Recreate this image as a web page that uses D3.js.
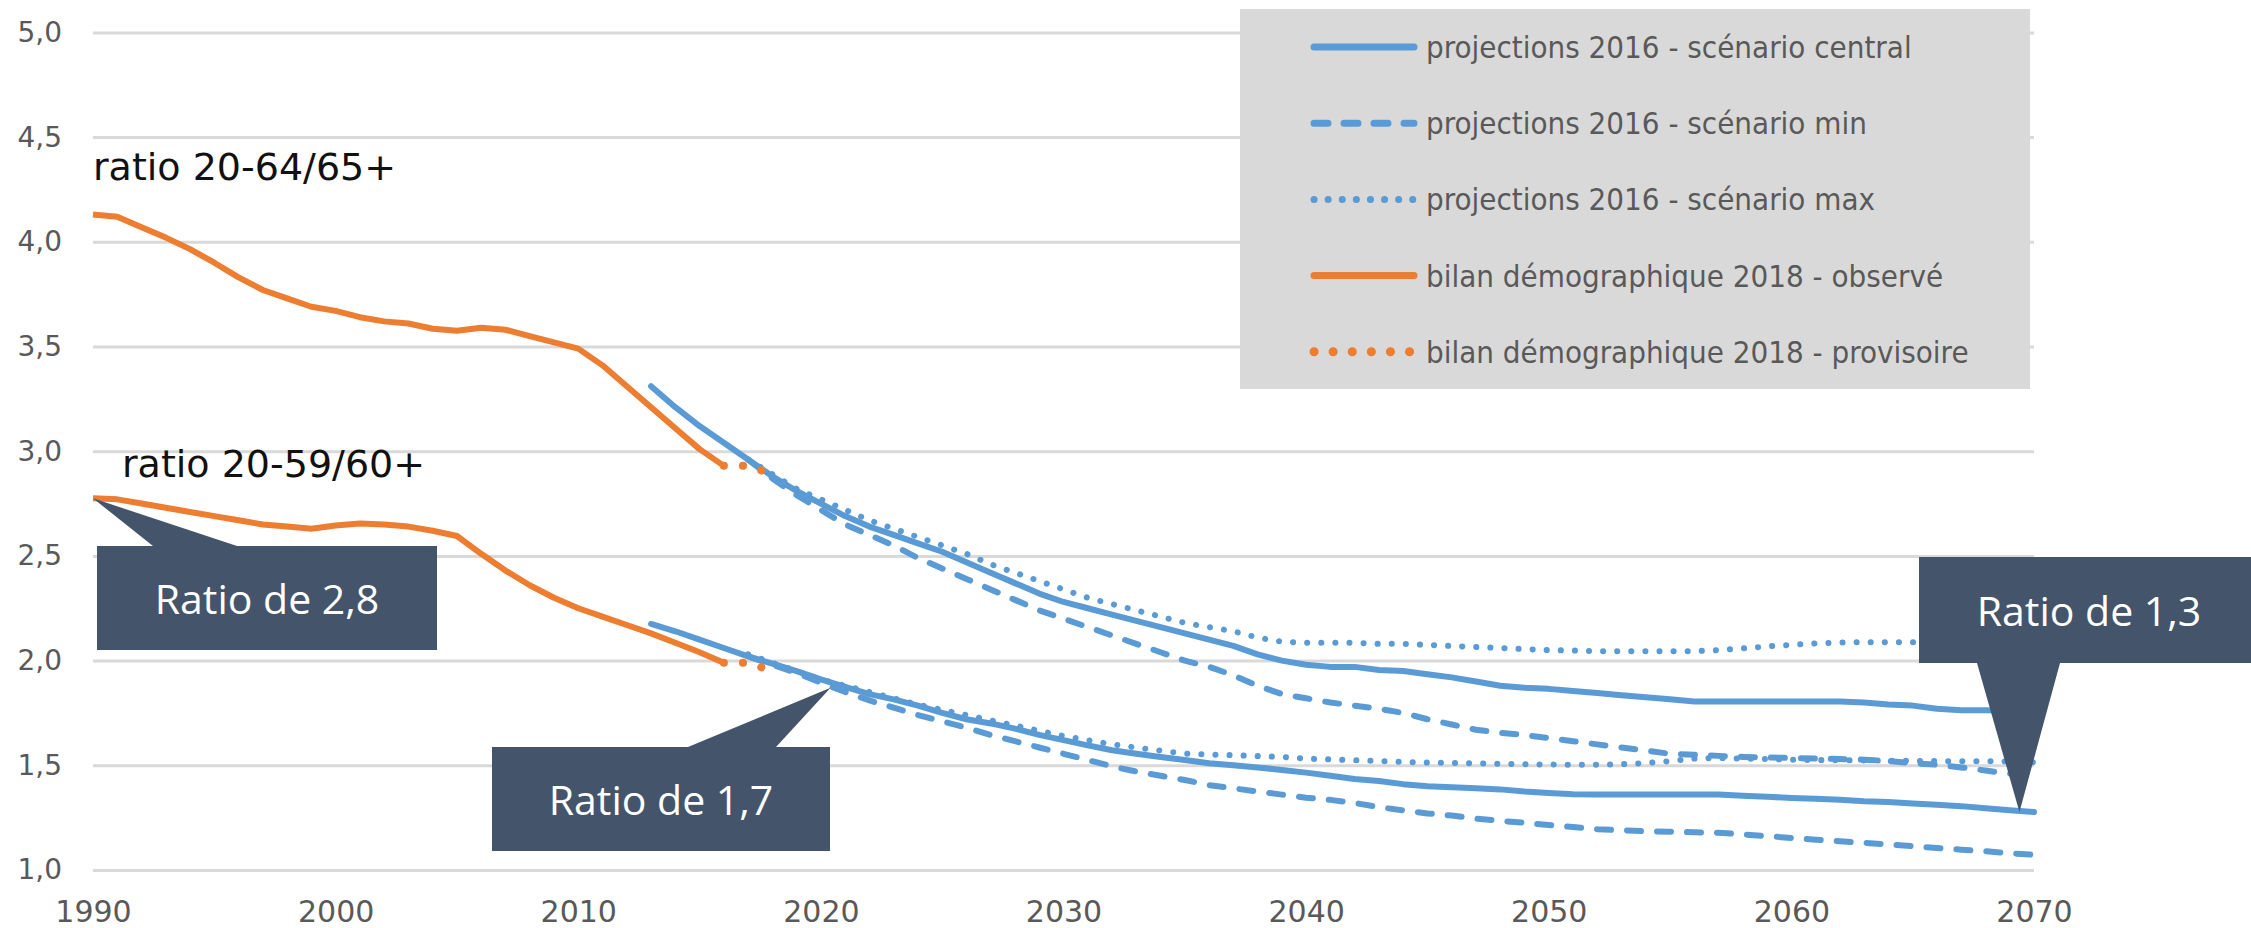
<!DOCTYPE html>
<html><head><meta charset="utf-8">
<script src="https://cdn.jsdelivr.net/npm/d3@7"></script>
<style>
html,body{margin:0;padding:0;background:#fff;}
svg{display:block;}
</style></head><body>
<svg id="chart" width="2251" height="928"></svg>
<script>
// Ratio of the working-age population to the older population, France 1990–2070

// ---- axis ticks ----
const yTicks = [1.0, 1.5, 2.0, 2.5, 3.0, 3.5, 4.0, 4.5, 5.0];
const xTicks = [1990, 2000, 2010, 2020, 2030, 2040, 2050, 2060, 2070];

// ---- bilan démographique 2018 : observed (from 1990) and provisional (2016-2018) ----
const observedStart = 1990;
const observed2064 = [4.13, 4.12, 4.07, 4.02, 3.965, 3.90, 3.83, 3.77, 3.73, 3.69,
  3.67, 3.64, 3.62, 3.61, 3.585, 3.575, 3.59, 3.58, 3.55, 3.52,
  3.49, 3.41, 3.31, 3.21, 3.11, 3.01, 2.93];
const observed2059 = [2.775, 2.77, 2.75, 2.73, 2.71, 2.69, 2.67, 2.65, 2.64, 2.63,
  2.645, 2.655, 2.65, 2.64, 2.62, 2.595, 2.51, 2.43, 2.36, 2.30,
  2.25, 2.21, 2.17, 2.13, 2.085, 2.04, 1.99];
const provisionalStart = 2016;
const provisional2064 = [2.93, 2.93, 2.89];
const provisional2059 = [1.99, 1.99, 1.95];

// ---- projections 2016 : central scenario (from 2013) ----
const centralStart = 2013;
const central2064 = [3.31, 3.21, 3.12, 3.04, 2.96, 2.88, 2.81, 2.75, 2.69, 2.64,
  2.60, 2.56, 2.52, 2.47, 2.42, 2.37, 2.32, 2.28, 2.25, 2.22,
  2.19, 2.16, 2.13, 2.10, 2.07, 2.03, 2.00, 1.98, 1.97, 1.97,
  1.955, 1.95, 1.935, 1.92, 1.90, 1.88, 1.87, 1.865, 1.855, 1.845,
  1.835, 1.825, 1.815, 1.805, 1.805, 1.805, 1.805, 1.805, 1.805, 1.805,
  1.80, 1.79, 1.785, 1.77, 1.763, 1.763, 1.76, 1.76];
const central2059 = [2.175, 2.14, 2.10, 2.06, 2.02, 1.985, 1.95, 1.91, 1.875, 1.84,
  1.815, 1.785, 1.75, 1.72, 1.70, 1.675, 1.645, 1.62, 1.595, 1.572,
  1.555, 1.54, 1.525, 1.51, 1.50, 1.49, 1.478, 1.465, 1.45, 1.435,
  1.425, 1.41, 1.40, 1.395, 1.39, 1.385, 1.375, 1.368, 1.362, 1.36,
  1.36, 1.36, 1.36, 1.36, 1.36, 1.355, 1.35, 1.344, 1.34, 1.335,
  1.328, 1.325, 1.318, 1.312, 1.305, 1.295, 1.285, 1.277];

// ---- projections 2016 : low and high scenarios (from 2017) ----
const scenarioStart = 2017;
const min2064 = [2.96, 2.87, 2.79, 2.72, 2.65, 2.60, 2.55, 2.49, 2.44, 2.39,
  2.34, 2.29, 2.24, 2.20, 2.16, 2.12, 2.08, 2.04, 2.00, 1.97,
  1.93, 1.88, 1.84, 1.82, 1.80, 1.785, 1.77, 1.75, 1.72, 1.695,
  1.67, 1.655, 1.645, 1.63, 1.615, 1.60, 1.585, 1.57, 1.555, 1.55,
  1.545, 1.54, 1.537, 1.535, 1.532, 1.53, 1.527, 1.52, 1.51, 1.503,
  1.49, 1.475, 1.46, 1.445];
const max2064 = [2.96, 2.89, 2.82, 2.77, 2.72, 2.67, 2.63, 2.59, 2.55, 2.51,
  2.46, 2.42, 2.38, 2.34, 2.30, 2.27, 2.24, 2.21, 2.18, 2.16,
  2.14, 2.11, 2.09, 2.085, 2.085, 2.085, 2.08, 2.08, 2.075, 2.07,
  2.065, 2.06, 2.055, 2.05, 2.048, 2.045, 2.045, 2.045, 2.045, 2.045,
  2.05, 2.058, 2.068, 2.075, 2.082, 2.086, 2.088, 2.088, 2.088, 2.088,
  2.09, 2.09, 2.09, 2.09];
const min2059 = [2.02, 1.98, 1.94, 1.895, 1.85, 1.81, 1.775, 1.74, 1.71, 1.68,
  1.645, 1.615, 1.585, 1.555, 1.525, 1.495, 1.47, 1.45, 1.43, 1.405,
  1.39, 1.375, 1.36, 1.345, 1.335, 1.32, 1.30, 1.285, 1.27, 1.26,
  1.245, 1.235, 1.225, 1.215, 1.205, 1.195, 1.19, 1.185, 1.183, 1.18,
  1.178, 1.17, 1.162, 1.153, 1.145, 1.137, 1.13, 1.122, 1.114, 1.105,
  1.097, 1.09, 1.08, 1.073];
const max2059 = [2.03, 1.99, 1.95, 1.91, 1.88, 1.85, 1.82, 1.79, 1.765, 1.74,
  1.715, 1.69, 1.665, 1.64, 1.62, 1.60, 1.585, 1.57, 1.556, 1.552,
  1.548, 1.544, 1.54, 1.532, 1.528, 1.524, 1.52, 1.516, 1.513, 1.511,
  1.509, 1.507, 1.505, 1.504, 1.503, 1.503, 1.505, 1.511, 1.52, 1.532,
  1.535, 1.532, 1.53, 1.527, 1.525, 1.524, 1.523, 1.522, 1.521, 1.52,
  1.519, 1.519, 1.518, 1.515];

// ---- texts ----
const legendLabels = [
  "projections 2016 - scénario central",
  "projections 2016 - scénario min",
  "projections 2016 - scénario max",
  "bilan démographique 2018 - observé",
  "bilan démographique 2018 - provisoire"
];
const seriesNames = ["ratio 20-64/65+", "ratio 20-59/60+"];
const calloutLabels = ["Ratio de 2,8", "Ratio de 1,7", "Ratio de 1,3"];
const calloutYears = [1990, 2020.4, 2069.4];
const calloutValues = [2.775, 1.87, 1.277];

// ---- styles ----
const BLUE = "#5B9BD5", ORANGE = "#ED7D31", CALLOUT = "#44546A";
const styles = {
  central:     {color: BLUE,   width: 6, dash: null,       cap: "round"},
  min:         {color: BLUE,   width: 6, dash: "14,16",    cap: "round"},
  max:         {color: BLUE,   width: 6, dash: "0.1,14",   cap: "round"},
  observed:    {color: ORANGE, width: 6, dash: null,       cap: "butt"},
  provisional: {color: ORANGE, width: 8, dash: "0.1,19",   cap: "round"}
};
const legendKeys = ["central", "min", "max", "observed", "provisional"];

// ---- layout ----
const svg = d3.select("#chart");
const x = d3.scaleLinear().domain([1990, 2070]).range([93, 2034]);
const y = d3.scaleLinear().domain([1, 5]).range([870, 32.4]);
const fr = d3.formatLocale({decimal: ",", thousands: " ", grouping: [3], currency: ["", " €"]});
const fmt = fr.format(".1f");

// horizontal gridlines + y labels
const yAxis = svg.append("g").attr("transform", `translate(${x(1990)},0)`)
  .call(d3.axisLeft(y).tickValues(yTicks).tickFormat(fmt)
    .tickSize(-(x(2070) - x(1990))).tickPadding(31));
yAxis.select(".domain").remove();
yAxis.selectAll(".tick line").attr("stroke", "#D9D9D9").attr("stroke-width", 3);
yAxis.selectAll(".tick text").attr("fill", "#595959")
  .style("font-family", "'DejaVu Sans', sans-serif").style("font-size", "28px");

// year labels
const xAxis = svg.append("g").attr("transform", `translate(0,${y(1)})`)
  .call(d3.axisBottom(x).tickValues(xTicks).tickFormat(d3.format("d"))
    .tickSize(0).tickPadding(31));
xAxis.select(".domain").remove();
xAxis.selectAll(".tick text").attr("fill", "#595959")
  .style("font-family", "'DejaVu Sans', sans-serif").style("font-size", "30px");

// series lines
const toPoints = (start, vals) => vals.map((v, i) => [start + i, v]);
const line = d3.line().x(d => x(d[0])).y(d => y(d[1]));
const series = [
  {key: "central", pts: toPoints(centralStart, central2064)},
  {key: "central", pts: toPoints(centralStart, central2059)},
  {key: "min", pts: toPoints(scenarioStart, min2064)},
  {key: "min", pts: toPoints(scenarioStart, min2059)},
  {key: "max", pts: toPoints(scenarioStart, max2064)},
  {key: "max", pts: toPoints(scenarioStart, max2059)},
  {key: "observed", pts: toPoints(observedStart, observed2064)},
  {key: "observed", pts: toPoints(observedStart, observed2059)},
  {key: "provisional", pts: toPoints(provisionalStart, provisional2064)},
  {key: "provisional", pts: toPoints(provisionalStart, provisional2059)}
];
svg.append("g").selectAll("path").data(series).join("path")
  .attr("d", d => line(d.pts))
  .attr("fill", "none")
  .attr("stroke", d => styles[d.key].color)
  .attr("stroke-width", d => styles[d.key].width)
  .attr("stroke-dasharray", d => styles[d.key].dash)
  .attr("stroke-linecap", d => styles[d.key].cap)
  .attr("stroke-linejoin", "round");

// series names
const nameText = svg.append("g").style("font-family", "'DejaVu Sans', sans-serif")
  .style("font-size", "38px").attr("fill", "#111");
nameText.append("text").attr("x", 93).attr("y", 180).text(seriesNames[0]);
nameText.append("text").attr("x", 122).attr("y", 477).text(seriesNames[1]);

// legend
const lg = svg.append("g");
lg.append("rect").attr("x", 1240).attr("y", 9).attr("width", 790).attr("height", 380)
  .attr("fill", "#D9D9D9");
legendKeys.forEach((k, i) => {
  const ry = 47 + i * 76.2;
  const s = styles[k];
  lg.append("line").attr("x1", 1314).attr("x2", 1414).attr("y1", ry).attr("y2", ry)
    .attr("stroke", s.color).attr("stroke-width", s.width + 1)
    .attr("stroke-dasharray", s.dash).attr("stroke-linecap", "round");
  lg.append("text").attr("x", 1426).attr("y", ry + 11)
    .style("font-family", "'DejaVu Sans Condensed', 'DejaVu Sans', sans-serif")
    .style("font-stretch", "condensed")
    .style("font-size", "31px").attr("fill", "#595959")
    .text(legendLabels[i]);
});

// callouts: box [x, y, w, h], pointer base [x1, x2] on the edge facing the tip
const calloutBoxes = [
  {box: [97, 546, 340, 104], base: [153, 237], edge: "top"},
  {box: [492, 747, 338, 104], base: [688, 776], edge: "top"},
  {box: [1919, 557, 340, 106], base: [1977, 2060], edge: "bottom"}
];
const cg = svg.append("g");
calloutBoxes.forEach((c, i) => {
  const [bx, by, bw, bh] = c.box;
  const tx = x(calloutYears[i]), ty = y(calloutValues[i]);
  const ey = c.edge === "top" ? by : by + bh;
  cg.append("rect").attr("x", bx).attr("y", by).attr("width", bw).attr("height", bh)
    .attr("fill", CALLOUT);
  cg.append("path")
    .attr("d", `M${c.base[0]},${ey}L${tx},${ty}L${c.base[1]},${ey}Z`)
    .attr("fill", CALLOUT);
  cg.append("text").attr("x", bx + bw / 2).attr("y", by + bh / 2)
    .attr("text-anchor", "middle").attr("dominant-baseline", "central")
    .style("font-family", "'Open Sans', sans-serif").style("font-size", "41px")
    .attr("fill", "#fff").text(calloutLabels[i]);
});
</script>
</body></html>
